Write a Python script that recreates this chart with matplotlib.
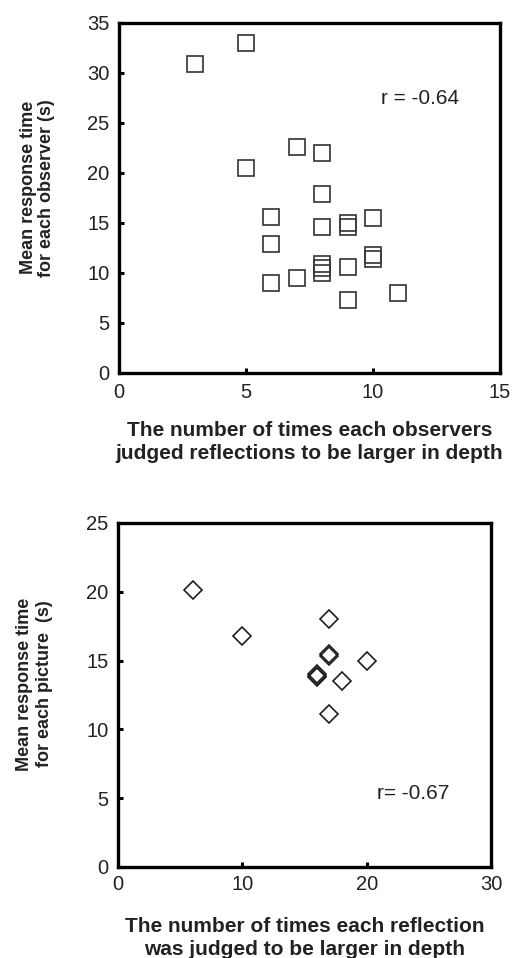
import matplotlib
matplotlib.use('Agg')
import matplotlib.pyplot as plt

plt.rcParams['font.family'] = ['Liberation Sans', 'DejaVu Sans']

# Top panel: per observer
obs_count = [3, 5, 5, 7, 8, 8, 6, 6, 8, 9, 9, 10, 6, 7, 8, 8, 8, 9, 10, 10, 9, 11]
obs_time = [30.9, 33.0, 20.5, 22.6, 22.0, 17.9, 15.6, 12.9, 14.6, 15.0, 14.6, 15.5,
            9.0, 9.5, 10.9, 10.5, 10.0, 10.6, 11.8, 11.4, 7.3, 8.0]
obs_xticks = [0, 5, 10, 15]
obs_yticks = [0, 5, 10, 15, 20, 25, 30, 35]

# Bottom panel: per picture
pic_count = [6, 10, 17, 17, 17, 16, 16, 16, 18, 20, 17]
pic_time = [20.1, 16.8, 18.0, 15.5, 15.3, 14.0, 13.9, 13.8, 13.5, 15.0, 11.1]
pic_xticks = [0, 10, 20, 30]
pic_yticks = [0, 5, 10, 15, 20, 25]

fig = plt.figure(figsize=(5.18, 9.58), dpi=100)

ax1 = fig.add_axes([119/518, 1-373/958, (500-119)/518, (373-23)/958])
ax2 = fig.add_axes([118/518, 1-867/958, (491-118)/518, (867-523)/958])

txt_col = '#222222'

def style(ax, xticks, yticks, xpad, ypad):
    ax.set_xlim(xticks[0], xticks[-1])
    ax.set_ylim(yticks[0], yticks[-1])
    ax.set_xticks(xticks)
    ax.set_yticks(yticks)
    for s in ax.spines.values():
        s.set_linewidth(2.4)
        s.set_color('black')
    ax.tick_params(axis='both', direction='in', length=3.5, width=2.2, color='black',
                   labelsize=14.5, labelcolor=txt_col)
    ax.tick_params(axis='x', pad=xpad)
    ax.tick_params(axis='y', pad=ypad)

style(ax1, obs_xticks, obs_yticks, 7.5, 7.0)
style(ax2, pic_xticks, pic_yticks, 6.0, 7.0)

ax1.plot(obs_count, obs_time, linestyle='none', marker='s', markersize=11.0,
         markerfacecolor='none', markeredgecolor='#3a3a3a', markeredgewidth=1.25, clip_on=False)
ax2.plot(pic_count, pic_time, linestyle='none', marker='D', markersize=9.2,
         markerfacecolor='none', markeredgecolor='#1e1e1e', markeredgewidth=1.2, clip_on=False)

ax1.text(0.79, 0.783, 'r = -0.64', transform=ax1.transAxes, ha='center', va='center',
         fontsize=15, color=txt_col)
ax2.text(0.792, 0.214, 'r= -0.67', transform=ax2.transAxes, ha='center', va='center',
         fontsize=15, color=txt_col)

ax1.set_ylabel('Mean response time\nfor each observer (s)', fontsize=13, fontweight='bold',
               linespacing=1.05, color=txt_col)
ax1.yaxis.set_label_coords(-0.168, 0.529)
ax2.set_ylabel('Mean response time\nfor each picture  (s)', fontsize=13, fontweight='bold',
               linespacing=1.2, color=txt_col)
ax2.yaxis.set_label_coords(-0.174, 0.532)

ax1.set_xlabel('The number of times each observers\njudged reflections to be larger in depth',
               fontsize=15, fontweight='bold', linespacing=1.25, color=txt_col)
ax1.xaxis.set_label_coords(0.5, -0.138)
ax2.set_xlabel('The number of times each reflection\nwas judged to be larger in depth',
               fontsize=15, fontweight='bold', linespacing=1.25, color=txt_col)
ax2.xaxis.set_label_coords(0.5, -0.146)

fig.savefig('out.png', dpi=100)
